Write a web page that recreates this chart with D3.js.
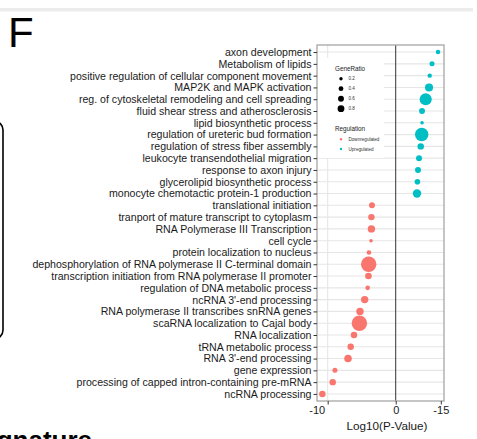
<!DOCTYPE html>
<html><head><meta charset="utf-8">
<script src="https://cdn.jsdelivr.net/npm/d3@7"></script>
<style>
html,body{margin:0;padding:0;background:#fff;}
svg{display:block;font-family:"Liberation Sans",Arial,sans-serif;}
</style></head>
<body>
<script>
const categories = [
"axon development","Metabolism of lipids","positive regulation of cellular component movement",
"MAP2K and MAPK activation","reg. of cytoskeletal remodeling and cell spreading",
"fluid shear stress and atherosclerosis","lipid biosynthetic process",
"regulation of ureteric bud formation","regulation of stress fiber assembly",
"leukocyte transendothelial migration","response to axon injury",
"glycerolipid biosynthetic process","monocyte chemotactic protein-1 production",
"translational initiation","tranport of mature transcript to cytoplasm",
"RNA Polymerase III Transcription","cell cycle","protein localization to nucleus",
"dephosphorylation of RNA polymerase II C-terminal domain",
"transcription initiation from RNA polymerase II promoter",
"regulation of DNA metabolic process","ncRNA 3'-end processing",
"RNA polymerase II transcribes snRNA genes","scaRNA localization to Cajal body",
"RNA localization","tRNA metabolic process","RNA 3'-end processing","gene expression",
"processing of capped intron-containing pre-mRNA","ncRNA processing"];
const logP = [6.22,5.34,5.0,4.9,4.41,3.87,3.87,3.82,3.68,3.43,3.28,3.19,3.13,
-3.49,-3.57,-3.57,-3.63,-3.93,-3.97,-4.01,-4.12,-4.56,-5.25,-5.34,-6.13,-6.62,-7.01,-8.93,-9.26,-10.78];
const geneRatio = [0.07,0.085,0.065,0.22,0.49,0.12,0.044,0.61,0.14,0.12,0.12,0.106,0.24,
0.12,0.14,0.185,0.044,0.072,0.8,0.147,0.072,0.185,0.185,0.8,0.14,0.14,0.195,0.085,0.14,0.14];
const regulation = ["Up","Up","Up","Up","Up","Up","Up","Up","Up","Up","Up","Up","Up",
"Down","Down","Down","Down","Down","Down","Down","Down","Down","Down","Down","Down","Down","Down","Down","Down","Down"];
const xTickValues = [-10, 0, 6.63];
const xTickLabels = ["-10", "0", "-15"];
const legendRatios = [0.2, 0.4, 0.6, 0.8];
const legendRegs = ["Downregulated", "Upregulated"];

const W = 477, H = 439;
const svg = d3.select("body").append("svg").attr("width", W).attr("height", H);

// surrounding figure fragments
svg.append("rect").attr("x",0).attr("y",8).attr("width",473).attr("height",3.5).attr("fill","#ececec");
svg.append("text").attr("x",8).attr("y",47).attr("font-size",42).attr("fill","#000").text("F");
svg.append("rect").attr("x",-40).attr("y",121).attr("width",43).attr("height",218).attr("rx",9)
  .attr("fill","none").attr("stroke","#000").attr("stroke-width",1.6);
svg.append("text").attr("x",92).attr("y",449).attr("text-anchor","end").attr("font-size",26)
  .attr("font-weight","bold").attr("fill","#000").text("signature");

const P = {l:317, r:444, t:45, b:401};
const x = d3.scaleLinear().domain([-11.57, 7.10]).range([P.l, P.r]);
const y = d3.scalePoint().domain(categories).range([P.t, P.b]).padding(0.6);
const r = d3.scaleSqrt().domain([0, 0.8]).range([0, 7.7]);
const color = d3.scaleOrdinal().domain(["Down","Up"]).range(["#F8766D","#00BFC4"]);

const data = categories.map((c,i)=>({cat:c, v:logP[i], g:geneRatio[i], reg:regulation[i]}));

// gridlines
svg.append("g").selectAll("line").data(categories).join("line")
  .attr("x1",P.l).attr("x2",P.r).attr("y1",d=>y(d)).attr("y2",d=>y(d))
  .attr("stroke","#e6e6e6").attr("stroke-width",1.1);
svg.append("line").attr("x1",x(-10)).attr("x2",x(-10)).attr("y1",P.t).attr("y2",P.b)
  .attr("stroke","#e6e6e6").attr("stroke-width",1.1);

// legend background
svg.append("rect").attr("x",P.l+1).attr("y",58).attr("width",66).attr("height",100).attr("fill","#fff");

// zero line
svg.append("line").attr("x1",x(0)).attr("x2",x(0)).attr("y1",P.t).attr("y2",P.b)
  .attr("stroke","#333").attr("stroke-width",1);

// points
svg.append("g").selectAll("circle").data(data).join("circle")
  .attr("cx",d=>x(d.v)).attr("cy",d=>y(d.cat)).attr("r",d=>r(d.g))
  .attr("fill",d=>color(d.reg));

// panel border
svg.append("rect").attr("x",P.l).attr("y",P.t).attr("width",P.r-P.l).attr("height",P.b-P.t)
  .attr("fill","none").attr("stroke","#a6a6a6").attr("stroke-width",1.3);

// y axis
const yAxis = svg.append("g").attr("transform",`translate(${P.l},0)`)
  .call(d3.axisLeft(y).tickSize(3.5).tickPadding(2));
yAxis.select(".domain").remove();
yAxis.selectAll("line").attr("stroke","#333");
yAxis.selectAll("text").attr("font-size",10.6).attr("fill","#1a1a1a").attr("font-family","Liberation Sans, Arial, sans-serif");

// x axis
const xAxis = svg.append("g").attr("transform",`translate(0,${P.b})`)
  .call(d3.axisBottom(x).tickValues(xTickValues).tickSize(3.5).tickPadding(1.5)
    .tickFormat((d,i)=>xTickLabels[i]));
xAxis.select(".domain").remove();
xAxis.selectAll("line").attr("stroke","#333");
xAxis.selectAll("text").attr("font-size",11).attr("fill","#1a1a1a").attr("font-family","Liberation Sans, Arial, sans-serif");
xAxis.selectAll(".tick").filter((d,i)=>i===0).select("text").attr("dx",-11);
svg.append("text").attr("x",387).attr("y",430).attr("text-anchor","middle").attr("font-size",11.7)
  .attr("fill","#1a1a1a").text("Log10(P-Value)");

// legend
const lg = svg.append("g");
lg.append("text").attr("x",335).attr("y",71).attr("font-size",6.3).attr("fill","#1a1a1a").text("GeneRatio");
const legR = d3.scaleSqrt().domain([0,0.8]).range([0,3.4]);
lg.selectAll("circle.s").data(legendRatios).join("circle").attr("class","s")
  .attr("cx",341).attr("cy",(d,i)=>78.7+i*10).attr("r",d=>legR(d)).attr("fill","#000");
lg.selectAll("text.s").data(legendRatios).join("text").attr("class","s")
  .attr("x",348.5).attr("y",(d,i)=>78.7+i*10+1.6).attr("font-size",4.6).attr("fill","#333").text(d=>d.toFixed(1));
lg.append("text").attr("x",335).attr("y",131).attr("font-size",6.3).attr("fill","#1a1a1a").text("Regulation");
lg.selectAll("circle.c").data(legendRegs).join("circle").attr("class","c")
  .attr("cx",341).attr("cy",(d,i)=>139.3+i*9.7).attr("r",1.2).attr("fill",(d,i)=>color(["Down","Up"][i]));
lg.selectAll("text.c").data(legendRegs).join("text").attr("class","c")
  .attr("x",348.5).attr("y",(d,i)=>139.3+i*9.7+1.6).attr("font-size",4.6).attr("fill","#333").text(d=>d);
</script>
</body></html>
